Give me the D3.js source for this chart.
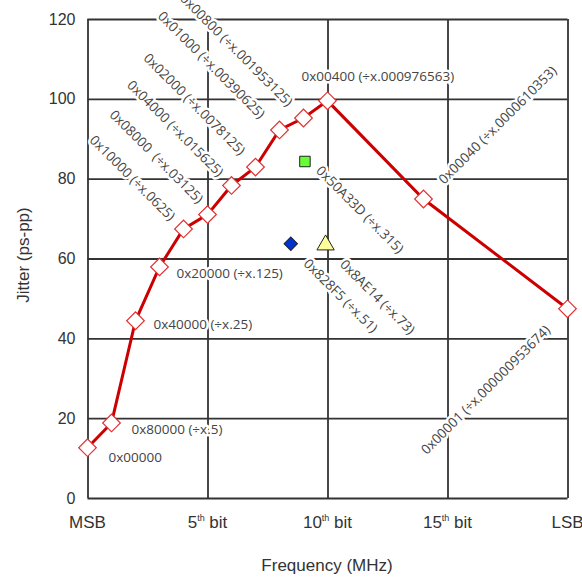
<!DOCTYPE html>
<html>
  <head>
    <title>Jitter vs frequency</title>
    <style>
      body,
      html {
        margin: 0;
        padding: 0;
        background: #fff;
      }
      svg {
        display: block;
      }
    </style>
  </head>
  <body>
    <script src="https://cdn.jsdelivr.net/npm/d3@7"></script>
    <script>
      // main sweep: bit position from MSB vs jitter (ps-pp)
      const bitPos = [0, 1, 2, 3, 4, 5, 6, 7, 8, 9, 10, 14, 20];
      const jitter = [12.6, 18.8, 44.4, 57.9, 67.4, 71.0, 78.3, 82.9, 92.2, 95.2, 99.5, 74.9, 47.4];
      const codes = [
        '0x00000',
        '0x80000 (\u00f7x.5)',
        '0x40000 (\u00f7x.25)',
        '0x20000 (\u00f7x.125)',
        '0x10000 (\u00f7x.0625)',
        '0x08000  (\u00f7x.03125)',
        '0x04000 (\u00f7x.015625)',
        '0x02000 (\u00f7x.0078125)',
        '0x01000 (\u00f7x.00390625)',
        '0x00800 (\u00f7x.001953125)',
        '0x00400 (\u00f7x.000976563)',
        '0x00040 (\u00f7x.0000610353)',
        '0x00001 (\u00f7x.000000953674)'
      ];

      // extra single points
      const extraPos = [9.06, 8.47, 9.92];
      const extraJitter = [84.3, 63.7, 63.4];
      const extraCodes = ['0x50A33D (\u00f7x.315)', '0x828F5 (\u00f7x.51)', '0x8AE14 (\u00f7x.73)'];
      const extraShapes = ['square', 'diamond', 'triangle'];
      const extraFills = ['#66ff33', '#0033cc', '#ffff99'];

      const yTicks = [0, 20, 40, 60, 80, 100, 120];
      const xTicks = [0, 5, 10, 15, 20];
      const xTickMain = ['MSB', '5', '10', '15', 'LSB'];
      const xTickSup = ['', 'th', 'th', 'th', ''];
      const xTickTail = ['', ' bit', ' bit', ' bit', ''];

      const width = 582;
      const height = 579;
      const svg = d3
        .select('body')
        .append('svg')
        .attr('width', width)
        .attr('height', height);

      const x = d3.scaleLinear().domain([0, 20]).range([87.5, 567.5]);
      const y = d3.scaleLinear().domain([0, 120]).range([498, 19]);

      const gridColor = '#333';

      // horizontal grid
      const gy = svg
        .append('g')
        .attr('transform', `translate(${x(0)},0)`)
        .call(
          d3
            .axisLeft(y)
            .tickValues(yTicks)
            .tickSize(-(x(20) - x(0)))
            .tickPadding(12)
        );
      gy.select('.domain').remove();
      gy.selectAll('.tick line').attr('stroke', gridColor).attr('stroke-width', 1.8);
      gy.selectAll('.tick text')
        .attr('fill', '#333')
        .style('font-family', 'Liberation Sans, Arial, sans-serif')
        .style('font-size', '16px');

      // vertical grid
      const gx = svg
        .append('g')
        .attr('transform', `translate(0,${y(0)})`)
        .call(
          d3
            .axisBottom(x)
            .tickValues(xTicks)
            .tickSize(-(y(0) - y(120)))
            .tickFormat('')
        );
      gx.select('.domain').remove();
      gx.selectAll('.tick line').attr('stroke', gridColor).attr('stroke-width', 1.8);

      // x tick labels with superscripts
      const xl = svg
        .append('g')
        .selectAll('text')
        .data(xTicks)
        .enter()
        .append('text')
        .attr('x', (d) => x(d))
        .attr('y', 528)
        .attr('text-anchor', 'middle')
        .attr('fill', '#333')
        .style('font-family', 'Liberation Sans, Arial, sans-serif')
        .style('font-size', '17px');
      xl.append('tspan').text((d, i) => xTickMain[i]);
      xl.append('tspan')
        .attr('dy', -7)
        .style('font-size', '9px')
        .text((d, i) => xTickSup[i]);
      xl.append('tspan')
        .attr('dy', 7)
        .text((d, i) => xTickTail[i]);

      svg
        .append('text')
        .attr('x', 327)
        .attr('y', 571)
        .attr('text-anchor', 'middle')
        .attr('fill', '#333')
        .style('font-family', 'Liberation Sans, Arial, sans-serif')
        .style('font-size', '17px')
        .text('Frequency (MHz)');

      svg
        .append('text')
        .attr('transform', 'translate(29,255) rotate(-90)')
        .attr('text-anchor', 'middle')
        .attr('fill', '#333')
        .style('font-family', 'Liberation Sans, Arial, sans-serif')
        .style('font-size', '17px')
        .text('Jitter (ps-pp)');

      // label placement relative to each point: [dx, dy, angle, anchor]
      const place = [
        [21, 10, 0, 'start'],
        [20, 6, 0, 'start'],
        [18, 3, 0, 'start'],
        [17, 6, 0, 'start'],
        [-51, -51, 45, 'middle'],
        [-51, -58, 45, 'middle'],
        [-56, -57, 45, 'middle'],
        [-61, -63, 45, 'middle'],
        [-68, -65, 45, 'middle'],
        [-67, -68, 45, 'middle'],
        [-26, -25, 0, 'start'],
        [74, -74, -45, 'middle'],
        [-82, 81, -45, 'middle']
      ];
      const extraPlace = [
        [55, 48, 45, 'middle'],
        [50, 52, 45, 'middle'],
        [52, 52, 45, 'middle']
      ];

      function drawLabels(pos, vals, texts, pl) {
        svg
          .append('g')
          .selectAll('text')
          .data(texts)
          .enter()
          .append('text')
          .attr('transform', (d, i) => {
            const px = x(pos[i]) + pl[i][0];
            const py = y(vals[i]) + pl[i][1];
            return `translate(${px},${py}) rotate(${pl[i][2]})`;
          })
          .attr('dy', '0.35em')
          .attr('text-anchor', (d, i) => pl[i][3])
          .attr('fill', '#444')
          .attr('stroke', '#fff')
          .attr('stroke-width', 5)
          .attr('stroke-linejoin', 'round')
          .style('paint-order', 'stroke')
          .style('white-space', 'pre')
          .style('font-family', 'Open Sans, sans-serif')
          .style('font-size', '13.5px')
          .text((d) => d);
      }
      drawLabels(bitPos, jitter, codes, place);
      drawLabels(extraPos, extraJitter, extraCodes, extraPlace);

      // red sweep line
      const line = d3
        .line()
        .x((d, i) => x(bitPos[i]))
        .y((d) => y(d));
      svg
        .append('path')
        .datum(jitter)
        .attr('d', line)
        .attr('fill', 'none')
        .attr('stroke', '#cc0000')
        .attr('stroke-width', 3);

      svg
        .append('g')
        .selectAll('path')
        .data(jitter)
        .enter()
        .append('path')
        .attr('d', d3.symbol(d3.symbolSquare, 155))
        .attr('transform', (d, i) => `translate(${x(bitPos[i])},${y(d)}) rotate(45)`)
        .attr('fill', '#fff')
        .attr('stroke', '#e03030')
        .attr('stroke-width', 1.2);

      // extra markers
      const shapeOf = {
        square: [d3.symbolSquare, 110, 0],
        diamond: [d3.symbolSquare, 90, 45],
        triangle: [d3.symbolTriangle, 130, 0]
      };
      svg
        .append('g')
        .selectAll('path')
        .data(extraJitter)
        .enter()
        .append('path')
        .attr('d', (d, i) => d3.symbol(shapeOf[extraShapes[i]][0], shapeOf[extraShapes[i]][1])())
        .attr(
          'transform',
          (d, i) => `translate(${x(extraPos[i])},${y(d)}) rotate(${shapeOf[extraShapes[i]][2]})`
        )
        .attr('fill', (d, i) => extraFills[i])
        .attr('stroke', '#222')
        .attr('stroke-width', 1);
    </script>
  </body>
</html>
